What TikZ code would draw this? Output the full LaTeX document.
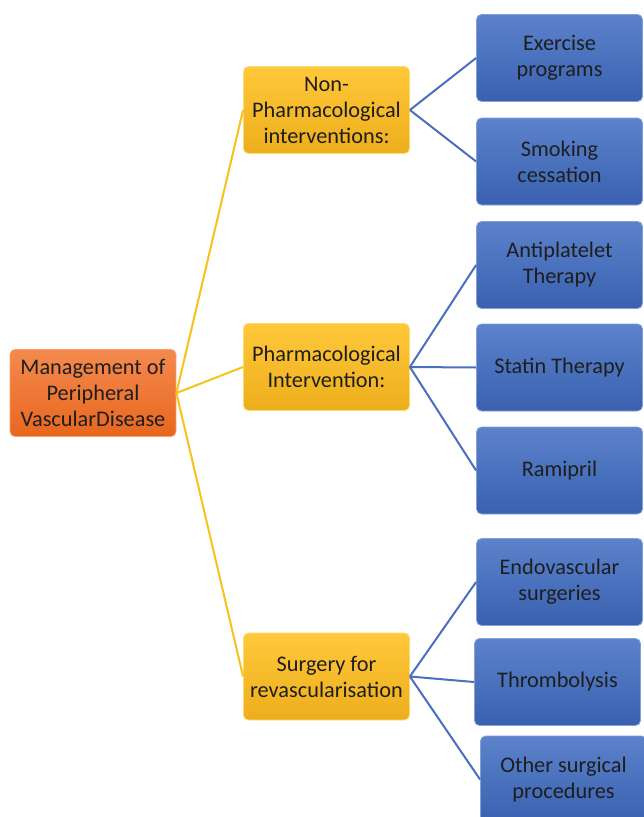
\documentclass[tikz,border=0pt]{standalone}
\usepackage{fontspec}
\setmainfont{Carlito}
\definecolor{rootTop}{HTML}{F48A4E}
\definecolor{rootBot}{HTML}{E8661E}
\definecolor{midTop}{HTML}{FFC83A}
\definecolor{midBot}{HTML}{EDAE1C}
\definecolor{leafTop}{HTML}{5B82CA}
\definecolor{leafBot}{HTML}{3A61B0}
\definecolor{yLine}{HTML}{F7C21A}
\definecolor{bLine}{HTML}{4A6FBE}
\definecolor{txt}{HTML}{1E1E1E}
\begin{document}
\begin{tikzpicture}[x=1pt,y=-1pt]
  \tikzstyle{every node}=[minimum width=166pt,minimum height=87pt,rounded corners=5pt,inner sep=2pt,
    align=center,text=txt,font=\fontsize{22.3}{26}\selectfont]
  \tikzstyle{rootbox}=[top color=rootTop,bottom color=rootBot,draw=rootTop!80!white,line width=0.8pt]
  \tikzstyle{midbox}=[top color=midTop,bottom color=midBot,draw=midTop!70!white,line width=0.8pt]
  \tikzstyle{leafbox}=[top color=leafTop,bottom color=leafBot,draw=leafTop!75!white,line width=0.8pt]
  \useasboundingbox [fill=white] (0,0) rectangle (643,817);
  % root
  \node [rootbox] (pvd) at (93,393) {Management of\\Peripheral\\VascularDisease};
  % middle level
  \node [midbox] (nonph) at (326.5,110) {Non-\\Pharmacological\\interventions:};
  \node [midbox] (pharm) at (326.5,367) {Pharmacological\\Intervention:};
  \node [midbox] (surg) at (326.5,676.5) {Surgery for\\revascularisation};
  % leaves
  \node [leafbox] (exer) at (559.5,58) {Exercise\\programs\vphantom{p}};
  \node [leafbox] (smok) at (559.5,161.5) {Smoking\\cessation};
  \node [leafbox] (anti) at (559.5,265) {Antiplatelet\\Therapy};
  \node [leafbox] (stat) at (559.5,367.5) {Statin Therapy};
  \node [leafbox] (rami) at (559.5,470.5) {Ramipril};
  \node [leafbox] (endo) at (559.5,582) {Endovascular\\surgeries};
  \node [leafbox] (thro) at (557.5,682) {Thrombolysis};
  \node [leafbox] (othr) at (563.5,779.5) {Other surgical\\procedures};
  % connectors
  \draw [yLine,line width=2pt] (pvd.east) -- (nonph.west);
  \draw [yLine,line width=2pt] (pvd.east) -- (pharm.west);
  \draw [yLine,line width=2pt] (pvd.east) -- (surg.west);
  \draw [bLine,line width=2pt] (nonph.east) -- (exer.west);
  \draw [bLine,line width=2pt] (nonph.east) -- (smok.west);
  \draw [bLine,line width=2pt] (pharm.east) -- (anti.west);
  \draw [bLine,line width=2pt] (pharm.east) -- (stat.west);
  \draw [bLine,line width=2pt] (pharm.east) -- (rami.west);
  \draw [bLine,line width=2pt] (surg.east) -- (endo.west);
  \draw [bLine,line width=2pt] (surg.east) -- (thro.west);
  \draw [bLine,line width=2pt] (surg.east) -- (othr.west);
\end{tikzpicture}
\end{document}
